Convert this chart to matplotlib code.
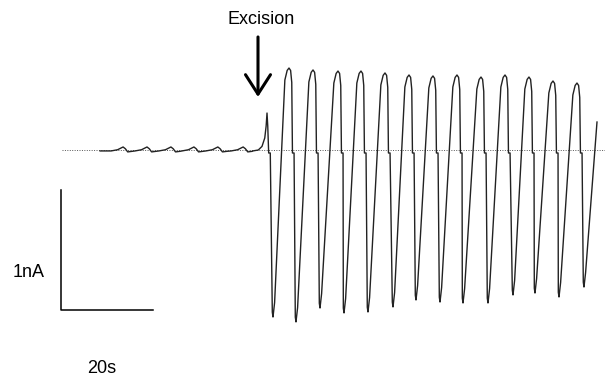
import matplotlib
matplotlib.use("Agg")
import matplotlib.pyplot as plt

plt.rcParams['font.family'] = ['Liberation Sans', 'DejaVu Sans']

# ---- data (time in s relative to excision, current in nA relative to baseline) ----
pre_start_t = -35.2
pre_level = -0.008
bump_t = [-30.2, -25.0, -19.8, -14.8, -9.6, -4.1]
bump_v = [0.025, 0.025, 0.025, 0.025, 0.025, 0.025]
spike_t = 1.09
spike_v = 0.308
shelf_v = -0.025

trough_t = [2.39, 7.39, 12.61, 17.83, 23.04, 28.48, 33.48, 38.70, 43.70, 49.13, 54.57, 59.35, 64.57, 70.0]
trough_v = [-1.392, -1.433, -1.317, -1.358, -1.350, -1.308, -1.250, -1.267, -1.275, -1.275, -1.208, -1.192, -1.225, -1.142]
peak_t = [5.87, 11.09, 16.52, 21.52, 26.74, 31.96, 37.17, 42.39, 47.61, 52.83, 58.04, 63.26, 68.48]
peak_v = [0.683, 0.667, 0.658, 0.658, 0.642, 0.625, 0.617, 0.625, 0.608, 0.625, 0.608, 0.575, 0.558]
end_t = 72.83
end_v = 0.233

scale_t0 = -43.7
scale_i0 = -1.333
scale_dt = 20   # s
scale_di = 1    # nA

baseline_t = [-43.5, 74.6]
excision_t = -0.87

# ---- build trace ----
T, V = [pre_start_t], [pre_level]
for tb, vb in zip(bump_t, bump_v):
    T += [tb - 2.6, tb - 1.2, tb, tb + 0.5, tb + 1.0, tb + 2.0]
    V += [pre_level, pre_level + 0.010, vb, vb - 0.015, pre_level - 0.008, pre_level - 0.003]
T += [-2.0, -0.8, 0.0, 0.6, 0.9, spike_t, 1.25, 1.45, 1.8]
V += [pre_level, 0.0, 0.03, 0.10, 0.20, spike_v, 0.20, shelf_v, shelf_v]
for k in range(len(trough_t)):
    tt, vt = trough_t[k], trough_v[k]
    T += [tt - 0.15, tt, tt + 0.35]
    V += [vt + 0.04, vt, vt + 0.12]
    if k < len(peak_t):
        tp, vp = peak_t[k], peak_v[k]
        T += [tp - 0.9, tp - 0.4, tp, tp + 0.35, tp + 0.6, tp + 0.75, tp + 1.1]
        V += [vp - 0.10, vp - 0.02, vp, vp - 0.02, vp - 0.12, shelf_v, shelf_v]
    else:
        T += [end_t]
        V += [end_v]

# ---- plot ----
fig = plt.figure(figsize=(6.05, 3.80), dpi=100)
ax = fig.add_axes([0, 0, 1, 1])
ax.set_xlim(-56.96, 74.57)
ax.set_ylim(-1.917, 1.25)
ax.axis('off')

ax.plot(baseline_t, [0, 0], color='#555555', lw=0.7, ls=(0, (1, 1.5)))
ax.plot(T, V, color='#222222', lw=1.0)

# scale bar
ax.plot([scale_t0, scale_t0, scale_t0 + scale_dt],
        [scale_i0 + scale_di, scale_i0, scale_i0], color='black', lw=1.1)
ax.text(-50.65, -1.025, '1nA', fontsize=13, ha='center', va='center')
ax.text(-34.8, -1.825, '20s', fontsize=13, ha='center', va='center')

# excision arrow
ax.annotate('', xy=(excision_t, 0.442), xytext=(excision_t, 0.942),
            arrowprops=dict(arrowstyle='->,head_length=1.4,head_width=0.9',
                            lw=2.2, color='black', shrinkA=0, shrinkB=0))
ax.text(-0.2, 1.09, 'Excision', fontsize=13, ha='center', va='center')

fig.savefig('out.png', dpi=100)
